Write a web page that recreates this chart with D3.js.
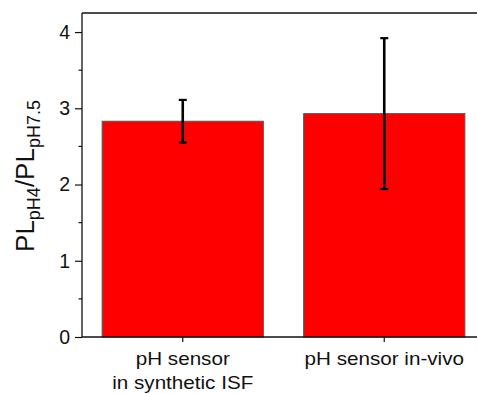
<!DOCTYPE html>
<html>
<head>
<meta charset="utf-8">
<script src="https://cdn.jsdelivr.net/npm/d3@7"></script>
<style>
  html, body { margin: 0; padding: 0; background: #fff; }
  svg { display: block; font-family: "Liberation Sans", Arial, sans-serif; }
</style>
</head>
<body>
<svg id="chart" width="477" height="394"></svg>
<script>
// Photoluminescence ratio of the pH sensor, PL(pH 4) / PL(pH 7.5)
const categories = ["synthetic", "invivo"];
const categoryLabels = [["pH sensor", "in synthetic ISF"], ["pH sensor in-vivo"]];
const ratios = [2.83, 2.93];
const errors = [0.28, 0.99];
const yTicks = [0, 1, 2, 3, 4];
const yMinorTicks = [0.5, 1.5, 2.5, 3.5];

const svg = d3.select("#chart");
const plotLeft = 82, plotTop = 13, plotBottom = 337, plotRight = 485;

const x = d3.scaleBand()
  .domain(categories)
  .range([plotLeft, plotRight])
  .paddingInner(0.2)
  .paddingOuter(0.1);

const y = d3.scaleLinear()
  .domain([0, 4.25])
  .range([plotBottom, plotTop]);

const data = categories.map((c, i) => ({ key: c, value: ratios[i], err: errors[i], lines: categoryLabels[i] }));

// bars
svg.append("g")
  .selectAll("rect")
  .data(data)
  .join("rect")
  .attr("x", d => x(d.key))
  .attr("y", d => y(d.value))
  .attr("width", x.bandwidth())
  .attr("height", d => y(0) - y(d.value))
  .attr("fill", "#ff0000")
  .attr("stroke", "#555")
  .attr("stroke-width", 1);

// error bars
const eb = svg.append("g").attr("stroke", "#000").attr("stroke-width", 2.6).attr("fill", "none");
data.forEach(d => {
  const cx = x(d.key) + x.bandwidth() / 2;
  eb.append("line").attr("x1", cx).attr("x2", cx).attr("y1", y(d.value - d.err)).attr("y2", y(d.value + d.err));
  [d.value - d.err, d.value + d.err].forEach(v => {
    eb.append("line").attr("x1", cx - 4).attr("x2", cx + 4).attr("y1", y(v)).attr("y2", y(v)).attr("stroke-width", 2.2);
  });
});

// frame: top edge
svg.append("line")
  .attr("x1", plotLeft).attr("x2", 477).attr("y1", plotTop).attr("y2", plotTop)
  .attr("stroke", "#111").attr("stroke-width", 1.3);

// y axis
const yAxis = svg.append("g")
  .attr("transform", `translate(${plotLeft},0)`)
  .call(d3.axisLeft(y).tickValues(yTicks).tickFormat(d3.format("d")).tickSize(7).tickPadding(5));
yAxis.select(".domain").attr("d", `M0,${plotTop}V${plotBottom}`).attr("stroke", "#111").attr("stroke-width", 1.3);
yAxis.selectAll(".tick line").attr("stroke", "#111").attr("stroke-width", 1.2);
yAxis.selectAll(".tick text")
  .attr("font-size", 19.5)
  .attr("font-family", "Liberation Sans, Arial, sans-serif")
  .attr("fill", "#111");

yAxis.selectAll(".minor")
  .data(yMinorTicks)
  .join("line")
  .attr("class", "minor")
  .attr("x1", -3.5).attr("x2", 0)
  .attr("y1", d => y(d)).attr("y2", d => y(d))
  .attr("stroke", "#111").attr("stroke-width", 1.2);

// x axis
const xAxis = svg.append("g")
  .attr("transform", `translate(0,${plotBottom})`)
  .call(d3.axisBottom(x).tickSize(5).tickFormat(""));
xAxis.select(".domain").attr("d", `M${plotLeft},0H477`).attr("stroke", "#111").attr("stroke-width", 1.3);
xAxis.selectAll(".tick line").attr("stroke", "#111").attr("stroke-width", 1.2);

// category labels, drawn slightly widened
const labelG = svg.append("g");
data.forEach(d => {
  const cx = x(d.key) + x.bandwidth() / 2;
  d.lines.forEach((line, j) => {
    labelG.append("text")
      .attr("transform", `translate(${cx},${365 + j * 24}) scale(1.18,1)`)
      .attr("text-anchor", "middle")
      .attr("font-size", 17.5)
      .attr("fill", "#111")
      .text(line);
  });
});

// y axis title with subscripts
const title = svg.append("text")
  .attr("transform", `translate(34.3,176) rotate(-90)`)
  .attr("text-anchor", "middle")
  .attr("font-size", 26)
  .attr("fill", "#111");
title.append("tspan").text("PL");
title.append("tspan").attr("font-size", 18).attr("dy", 6).text("pH4");
title.append("tspan").attr("dy", -6).text("/PL");
title.append("tspan").attr("font-size", 18).attr("dy", 6).text("pH7.5");
</script>
</body>
</html>
